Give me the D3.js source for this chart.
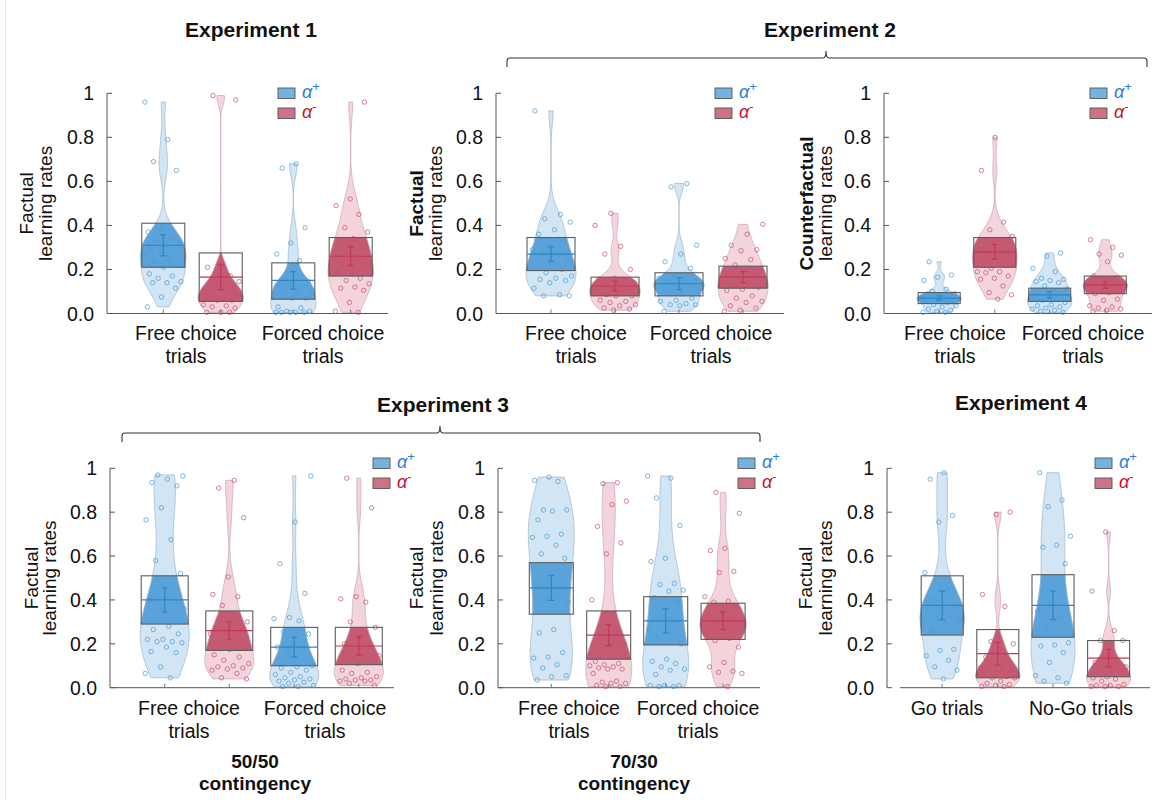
<!DOCTYPE html>
<html><head><meta charset="utf-8">
<script src="https://cdn.jsdelivr.net/npm/d3@7"></script>
<style>body{margin:0;background:#fff} text{font-family:"Liberation Sans",Arial,Helvetica,sans-serif}</style>
</head><body>
<svg id="chart" width="1162" height="811"></svg>
<script>
// ---------------- DATA ----------------
const series = ["α+", "α-"];
const yTicks = [0, 0.2, 0.4, 0.6, 0.8, 1];
const choiceCategories = [["Free choice", "trials"], ["Forced choice", "trials"]];
const goCategories = [["Go trials"], ["No-Go trials"]];

// Experiment 1 (factual)
const e1FreePlus = [0.96,0.79,0.69,0.65,0.39,0.37,0.34,0.33,0.32,0.31,0.30,0.29,0.28,0.26,0.24,0.235,0.22,0.21,0.18,0.17,0.16,0.145,0.14,0.14,0.115,0.075,0.03];
const e1FreeMinus = [0.99,0.97,0.22,0.21,0.17,0.16,0.145,0.13,0.12,0.115,0.11,0.10,0.09,0.085,0.08,0.07,0.065,0.06,0.06,0.04,0.035,0.03,0.025,0.005,0.005,0.005];
const e1ForcedPlus = [0.68,0.66,0.39,0.32,0.27,0.24,0.155,0.145,0.135,0.13,0.125,0.12,0.105,0.09,0.085,0.07,0.07,0.03,0.025,0.01,0.01,0.005,0.005,0.005,0.005,0.005];
const e1ForcedMinus = [0.96,0.52,0.49,0.45,0.39,0.37,0.34,0.32,0.30,0.28,0.265,0.25,0.23,0.215,0.19,0.185,0.16,0.15,0.135,0.12,0.115,0.105,0.05,0.01,0.005];
const e1Mean = [0.31, 0.165, 0.15, 0.26];
const e1Sem = [0.048, 0.057, 0.04, 0.043];
const e1BoxLo = [0.21, 0.055, 0.065, 0.17];
const e1BoxHi = [0.41, 0.275, 0.23, 0.345];

// Experiment 2 (factual)
const e2FreePlus = [0.92,0.45,0.43,0.415,0.38,0.36,0.33,0.30,0.29,0.275,0.27,0.24,0.23,0.205,0.2,0.185,0.17,0.16,0.155,0.15,0.14,0.115,0.085,0.08,0.08];
const e2FreeMinus = [0.455,0.40,0.305,0.27,0.2,0.16,0.155,0.15,0.145,0.14,0.13,0.125,0.115,0.11,0.10,0.095,0.085,0.08,0.08,0.06,0.055,0.05,0.04,0.035,0.025,0.02,0.015];
const e2ForcedPlus = [0.59,0.575,0.31,0.27,0.235,0.205,0.165,0.16,0.155,0.15,0.145,0.14,0.13,0.125,0.12,0.115,0.105,0.10,0.07,0.06,0.055,0.045,0.04,0.04,0.035,0.01];
const e2ForcedMinus = [0.405,0.36,0.31,0.29,0.285,0.25,0.245,0.22,0.205,0.195,0.185,0.17,0.16,0.14,0.14,0.125,0.12,0.11,0.105,0.08,0.07,0.055,0.05,0.035,0.025,0.015,0.01];
const e2Mean = [0.27, 0.125, 0.135, 0.165];
const e2Sem = [0.033, 0.022, 0.027, 0.025];
const e2BoxLo = [0.195, 0.08, 0.08, 0.115];
const e2BoxHi = [0.345, 0.165, 0.185, 0.215];

// Experiment 2 (counterfactual)
const cfFreePlus = [0.235,0.175,0.165,0.15,0.11,0.10,0.09,0.085,0.08,0.08,0.075,0.07,0.07,0.065,0.06,0.06,0.055,0.05,0.04,0.035,0.03,0.02,0.015,0.01,0.005,0.005];
const cfFreeMinus = [0.80,0.65,0.415,0.38,0.35,0.335,0.33,0.33,0.31,0.29,0.28,0.275,0.27,0.26,0.245,0.22,0.205,0.19,0.19,0.185,0.17,0.16,0.155,0.125,0.095,0.085,0.065];
const cfForcedPlus = [0.275,0.26,0.205,0.19,0.16,0.155,0.15,0.145,0.14,0.125,0.11,0.10,0.095,0.09,0.085,0.08,0.065,0.06,0.05,0.04,0.035,0.03,0.025,0.02,0.015,0.01,0.005];
const cfForcedMinus = [0.335,0.30,0.27,0.265,0.235,0.17,0.16,0.155,0.15,0.15,0.14,0.135,0.13,0.125,0.11,0.105,0.1,0.095,0.09,0.065,0.06,0.035,0.03,0.025,0.02,0.015,0.01];
const cfMean = [0.07, 0.28, 0.085, 0.13];
const cfSem = [0.01, 0.033, 0.015, 0.015];
const cfBoxLo = [0.045, 0.21, 0.055, 0.09];
const cfBoxHi = [0.095, 0.345, 0.115, 0.17];

// Experiment 3, 50/50 contingency
const e3aFreePlus = [0.97,0.965,0.95,0.935,0.92,0.82,0.765,0.675,0.58,0.52,0.41,0.40,0.39,0.37,0.36,0.28,0.265,0.245,0.22,0.22,0.21,0.21,0.205,0.185,0.165,0.16,0.095,0.065,0.045];
const e3aFreeMinus = [0.945,0.91,0.775,0.505,0.425,0.415,0.375,0.30,0.29,0.27,0.26,0.255,0.245,0.21,0.20,0.18,0.175,0.15,0.14,0.125,0.11,0.10,0.095,0.09,0.085,0.08,0.065,0.045,0.04];
const e3aForcedPlus = [0.965,0.755,0.565,0.43,0.32,0.315,0.305,0.255,0.245,0.2,0.185,0.18,0.17,0.1,0.095,0.09,0.08,0.07,0.06,0.05,0.045,0.04,0.035,0.03,0.025,0.02,0.01,0.005,0.005];
const e3aForcedMinus = [0.955,0.82,0.415,0.405,0.39,0.30,0.275,0.23,0.20,0.185,0.15,0.145,0.145,0.14,0.135,0.11,0.08,0.07,0.065,0.05,0.045,0.04,0.035,0.035,0.03,0.03,0.02,0.01];
const e3aMean = [0.40, 0.26, 0.185, 0.19];
const e3aSem = [0.055, 0.04, 0.045, 0.042];
const e3aBoxLo = [0.29, 0.17, 0.10, 0.105];
const e3aBoxHi = [0.51, 0.35, 0.275, 0.275];

// Experiment 3, 70/30 contingency
const e3bFreePlus = [0.96,0.945,0.94,0.81,0.81,0.805,0.765,0.70,0.69,0.685,0.65,0.61,0.59,0.485,0.465,0.42,0.405,0.39,0.265,0.25,0.16,0.14,0.135,0.105,0.09,0.055,0.05,0.035];
const e3bFreeMinus = [0.935,0.93,0.85,0.835,0.735,0.66,0.61,0.40,0.265,0.225,0.2,0.19,0.12,0.11,0.105,0.10,0.095,0.09,0.085,0.085,0.065,0.03,0.025,0.02,0.02,0.01,0.005,0.005];
const e3bForcedPlus = [0.965,0.955,0.865,0.74,0.59,0.575,0.475,0.47,0.445,0.44,0.41,0.39,0.32,0.265,0.25,0.225,0.2,0.13,0.12,0.11,0.095,0.085,0.08,0.06,0.01,0.01,0.01,0.005,0.005];
const e3bForcedMinus = [0.89,0.795,0.635,0.625,0.53,0.525,0.415,0.395,0.39,0.365,0.345,0.33,0.31,0.30,0.29,0.285,0.28,0.265,0.255,0.245,0.225,0.215,0.185,0.115,0.095,0.075,0.07,0.065,0.005];
const e3bMean = [0.455, 0.24, 0.305, 0.305];
const e3bSem = [0.057, 0.048, 0.055, 0.04];
const e3bBoxLo = [0.335, 0.13, 0.195, 0.22];
const e3bBoxHi = [0.57, 0.35, 0.415, 0.385];

// Experiment 4
const e4GoPlus = [0.98,0.95,0.785,0.755,0.525,0.44,0.40,0.365,0.36,0.355,0.33,0.315,0.31,0.285,0.265,0.175,0.17,0.145,0.125,0.095,0.08,0.04];
const e4GoMinus = [0.80,0.79,0.425,0.37,0.21,0.20,0.175,0.14,0.125,0.11,0.09,0.085,0.085,0.08,0.065,0.06,0.05,0.045,0.045,0.03,0.02,0.015,0.01,0.005,0.005];
const e4NoGoPlus = [0.98,0.855,0.825,0.69,0.65,0.64,0.565,0.385,0.35,0.32,0.275,0.205,0.195,0.19,0.16,0.115,0.055,0.045,0.03,0.02];
const e4NoGoMinus = [0.71,0.44,0.26,0.215,0.215,0.155,0.115,0.11,0.095,0.095,0.08,0.075,0.075,0.05,0.045,0.04,0.03,0.015,0.01,0.01,0.005,0.005,0.005];
const e4Mean = [0.375, 0.155, 0.375, 0.135];
const e4Sem = [0.065, 0.052, 0.065, 0.04];
const e4BoxLo = [0.24, 0.045, 0.23, 0.05];
const e4BoxHi = [0.51, 0.265, 0.515, 0.215];

// ---------------- LAYOUT ----------------
const rows = [{top: 93.3, bottom: 313.5, legendY: 88, labelY: 339.5}, {top: 468.3, bottom: 687.7, legendY: 458, labelY: 715}];
const panels = [
  {row:0, axisX:107, xStart:107, xEnd:388, groups:[192,322], off:28.7, boxW:43, legendX:278, labelX:[186,323],
   yTitle:["Factual","learning rates"], yTitleBold:false, yTitleX:[33,52], cats:choiceCategories,
   vals:[e1FreePlus,e1FreeMinus,e1ForcedPlus,e1ForcedMinus], mean:e1Mean, sem:e1Sem, lo:e1BoxLo, hi:e1BoxHi},
  {row:0, axisX:496, xStart:496, xEnd:784, groups:[583,711], off:32, boxW:48, legendX:715, labelX:[576,711],
   yTitle:["Factual","learning rates"], yTitleBold:true, yTitleX:[423,442], cats:choiceCategories,
   vals:[e2FreePlus,e2FreeMinus,e2ForcedPlus,e2ForcedMinus], mean:e2Mean, sem:e2Sem, lo:e2BoxLo, hi:e2BoxHi},
  {row:0, axisX:884, xStart:884, xEnd:1152, groups:[967,1077.5], off:27.8, boxW:42, legendX:1090, labelX:[955,1083],
   yTitle:["Counterfactual","learning rates"], yTitleBold:true, yTitleX:[813,832], cats:choiceCategories,
   vals:[cfFreePlus,cfFreeMinus,cfForcedPlus,cfForcedMinus], mean:cfMean, sem:cfSem, lo:cfBoxLo, hi:cfBoxHi},
  {row:1, axisX:110, xStart:110, xEnd:394, groups:[197,326.5], off:32.3, boxW:47, legendX:373, labelX:[189,325],
   yTitle:["Factual","learning rates"], yTitleBold:false, yTitleX:[38,56], cats:choiceCategories, sub:["50/50","contingency"], subX:255,
   vals:[e3aFreePlus,e3aFreeMinus,e3aForcedPlus,e3aForcedMinus], mean:e3aMean, sem:e3aSem, lo:e3aBoxLo, hi:e3aBoxHi},
  {row:1, axisX:498, xStart:498, xEnd:760, groups:[580,694.4], off:28.7, boxW:44, legendX:738, labelX:[569,698],
   yTitle:["Factual","learning rates"], yTitleBold:false, yTitleX:[423,443], cats:choiceCategories, sub:["70/30","contingency"], subX:634,
   vals:[e3bFreePlus,e3bFreeMinus,e3bForcedPlus,e3bForcedMinus], mean:e3bMean, sem:e3bSem, lo:e3bBoxLo, hi:e3bBoxHi},
  {row:1, axisX:887, xStart:900, xEnd:1150, groups:[970,1080.8], off:27.8, boxW:42, legendX:1095, labelX:[947,1081],
   yTitle:["Factual","learning rates"], yTitleBold:false, yTitleX:[812,832], cats:goCategories,
   vals:[e4GoPlus,e4GoMinus,e4NoGoPlus,e4NoGoMinus], mean:e4Mean, sem:e4Sem, lo:e4BoxLo, hi:e4BoxHi}
];

const colors = {
  "α+": {light:"#d1e5f5", dark:"#5aa3da", line:"#2f84c6", point:"#4a9ad4", legend:"#74b2e0", text:"#2a7be4", outline:"#9eb3c6"},
  "α-": {light:"#f3d4db", dark:"#c55a73", line:"#c0385a", point:"#c84f6c", legend:"#cf7288", text:"#c8102e", outline:"#c3a7ae"}
};

const svg = d3.select("#chart");
svg.append("line").attr("x1",5.5).attr("x2",5.5).attr("y1",0).attr("y2",800).attr("stroke","#e6e6e6");

function bandwidth(v){
  const s = v.slice().sort(d3.ascending);
  const sd = d3.deviation(s);
  const iqr = d3.quantile(s,0.75) - d3.quantile(s,0.25);
  const sig = Math.min(sd, iqr/1.34) || sd;
  return 0.9 * sig * Math.pow(s.length, -0.2);
}
function kde(v, h){
  const lo = d3.min(v), hi = d3.max(v);
  const n = 160, step = (hi - lo) / n;
  return d3.range(n + 1).map(i => {
    const t = lo + i * step;
    return [t, d3.sum(v, x => Math.exp(-0.5 * ((t - x) / h) ** 2))];
  });
}
function fmt(t){ return t === 0 ? "0.0" : (t === 1 ? "1" : t.toFixed(1)); }

let clipId = 0;
panels.forEach((p, pi) => {
  const r = rows[p.row];
  const y = d3.scaleLinear().domain([0, 1]).range([r.bottom, r.top]);
  const gx = d3.scalePoint().domain([0, 1]).range(p.groups);
  const sx = d3.scalePoint().domain(series).range([-p.off, p.off]);
  const g = svg.append("g");

  // y axis
  g.append("line").attr("x1",p.axisX).attr("x2",p.axisX).attr("y1",y(0)).attr("y2",y(1)).attr("stroke","#555").attr("stroke-width",1);
  g.selectAll(".yt").data(yTicks).join("line").attr("x1",p.axisX).attr("x2",p.axisX+5)
    .attr("y1",d=>y(d)).attr("y2",d=>y(d)).attr("stroke","#555");
  g.selectAll(".yl").data(yTicks).join("text").attr("x",p.axisX-13).attr("y",d=>y(d)).attr("dy","0.36em")
    .attr("text-anchor","end").attr("font-size",19.5).attr("fill","#111").text(fmt);
  // x axis
  g.append("line").attr("x1",p.xStart).attr("x2",p.xEnd).attr("y1",y(0)).attr("y2",y(0)).attr("stroke","#555").attr("stroke-width",1);

  // y title
  const ym = (r.top + r.bottom) / 2;
  p.yTitle.forEach((t, k) => {
    g.append("text").attr("transform",`translate(${p.yTitleX[k]},${ym}) rotate(-90)`)
      .attr("text-anchor","middle").attr("font-size",19).attr("fill","#111")
      .attr("font-weight", (k === 0 && p.yTitleBold) ? "bold" : "normal").text(t);
  });

  // category labels
  p.cats.forEach((lines, ci) => {
    lines.forEach((t, li) => {
      g.append("text").attr("x", p.labelX[ci]).attr("y", r.labelY + li * 23)
        .attr("text-anchor","middle").attr("font-size",19.5).attr("fill","#111").text(t);
    });
  });
  if (p.sub) {
    p.sub.forEach((t, li) => {
      g.append("text").attr("x", p.subX).attr("y", 768 + li * 22).attr("text-anchor","middle")
        .attr("font-size",19).attr("font-weight","bold").attr("fill","#111").text(t);
    });
  }

  // violins
  p.vals.forEach((vals, vi) => {
    const ser = series[vi % 2];
    const c = colors[ser];
    const cx = gx(Math.floor(vi / 2)) + sx(ser);
    const hw = p.boxW / 2 + 1;
    const dens = kde(vals, bandwidth(vals));
    const w = d3.scaleLinear().domain([0, d3.max(dens, d => d[1])]).range([0, hw]);
    const area = d3.area().curve(d3.curveCatmullRom)
      .y(d => y(d[0])).x0(d => cx - w(d[1])).x1(d => cx + w(d[1]));
    g.append("path").attr("d", area(dens)).attr("fill", c.light).attr("stroke", c.outline).attr("stroke-width", 0.7);
    const id = "clip" + (clipId++);
    g.append("clipPath").attr("id", id).append("rect")
      .attr("x", cx - hw - 3).attr("width", 2 * hw + 6)
      .attr("y", y(p.hi[vi])).attr("height", y(p.lo[vi]) - y(p.hi[vi]));
    g.append("path").attr("d", area(dens)).attr("fill", c.dark).attr("stroke", c.outline).attr("stroke-width", 0.7)
      .attr("clip-path", `url(#${id})`);
    // x tick at violin center
    g.append("line").attr("x1",cx).attr("x2",cx).attr("y1",y(0)).attr("y2",y(0)-4).attr("stroke","#777");
    // points
    const jw = 0.86 * p.boxW / 2;
    g.selectAll(null).data(vals).join("circle")
      .attr("cx", (d, i) => cx + ((((i * 0.6180339887) + 0.29 * vi + 0.11 * pi) % 1) - 0.5) * 2 * jw)
      .attr("cy", d => y(d)).attr("r", 2.2)
      .attr("fill", "none").attr("stroke", c.point).attr("stroke-width", 0.85).attr("opacity", 0.85);
    // box
    g.append("rect").attr("x", cx - p.boxW / 2).attr("width", p.boxW)
      .attr("y", y(p.hi[vi])).attr("height", y(p.lo[vi]) - y(p.hi[vi]))
      .attr("fill", "none").attr("stroke", "#5c5c5c").attr("stroke-width", 1.1);
    // mean line
    g.append("line").attr("x1", cx - p.boxW / 2).attr("x2", cx + p.boxW / 2)
      .attr("y1", y(p.mean[vi])).attr("y2", y(p.mean[vi])).attr("stroke", c.line).attr("stroke-width", 1.2);
    // SEM
    const e0 = y(p.mean[vi] - p.sem[vi]), e1 = y(p.mean[vi] + p.sem[vi]);
    g.append("line").attr("x1",cx).attr("x2",cx).attr("y1",e0).attr("y2",e1).attr("stroke",c.line).attr("stroke-width",1.2);
    [e0, e1].forEach(ey => g.append("line").attr("x1",cx-3).attr("x2",cx+3).attr("y1",ey).attr("y2",ey).attr("stroke",c.line).attr("stroke-width",1.2));
  });

  // legend
  series.forEach((s, si) => {
    const ly = r.legendY + si * 20;
    g.append("rect").attr("x", p.legendX).attr("y", ly).attr("width", 17).attr("height", 10.5)
      .attr("fill", colors[s].legend).attr("stroke", "#555").attr("stroke-width", 0.9);
    const t = g.append("text").attr("x", p.legendX + 24).attr("y", ly + 10).attr("font-size", 18)
      .attr("fill", colors[s].text).attr("font-style","italic");
    t.append("tspan").text("α");
    t.append("tspan").attr("dy", -7).attr("font-size", 13).attr("font-style","normal").text(si === 0 ? "+" : "-");
  });
});

// titles and brackets
const titles = [
  {t:"Experiment 1", x:251, y:37},
  {t:"Experiment 2", x:830, y:37},
  {t:"Experiment 3", x:443, y:412},
  {t:"Experiment 4", x:1021, y:410}
];
svg.selectAll(".title").data(titles).join("text").attr("x",d=>d.x).attr("y",d=>d.y)
  .attr("text-anchor","middle").attr("font-size",21).attr("font-weight","bold").attr("fill","#111").text(d=>d.t);

const brackets = [
  {x0:507, x1:1147, xc:826, y:58},
  {x0:122, x1:760, xc:440, y:433}
];
brackets.forEach(b => {
  const d = `M${b.x0},${b.y+9} L${b.x0},${b.y+3} Q${b.x0},${b.y} ${b.x0+3},${b.y} L${b.xc-3},${b.y} Q${b.xc},${b.y} ${b.xc},${b.y-7} Q${b.xc},${b.y} ${b.xc+3},${b.y} L${b.x1-3},${b.y} Q${b.x1},${b.y} ${b.x1},${b.y+3} L${b.x1},${b.y+9}`;
  svg.append("path").attr("d", d).attr("fill","none").attr("stroke","#333").attr("stroke-width",1.1);
});
</script>
</body></html>
